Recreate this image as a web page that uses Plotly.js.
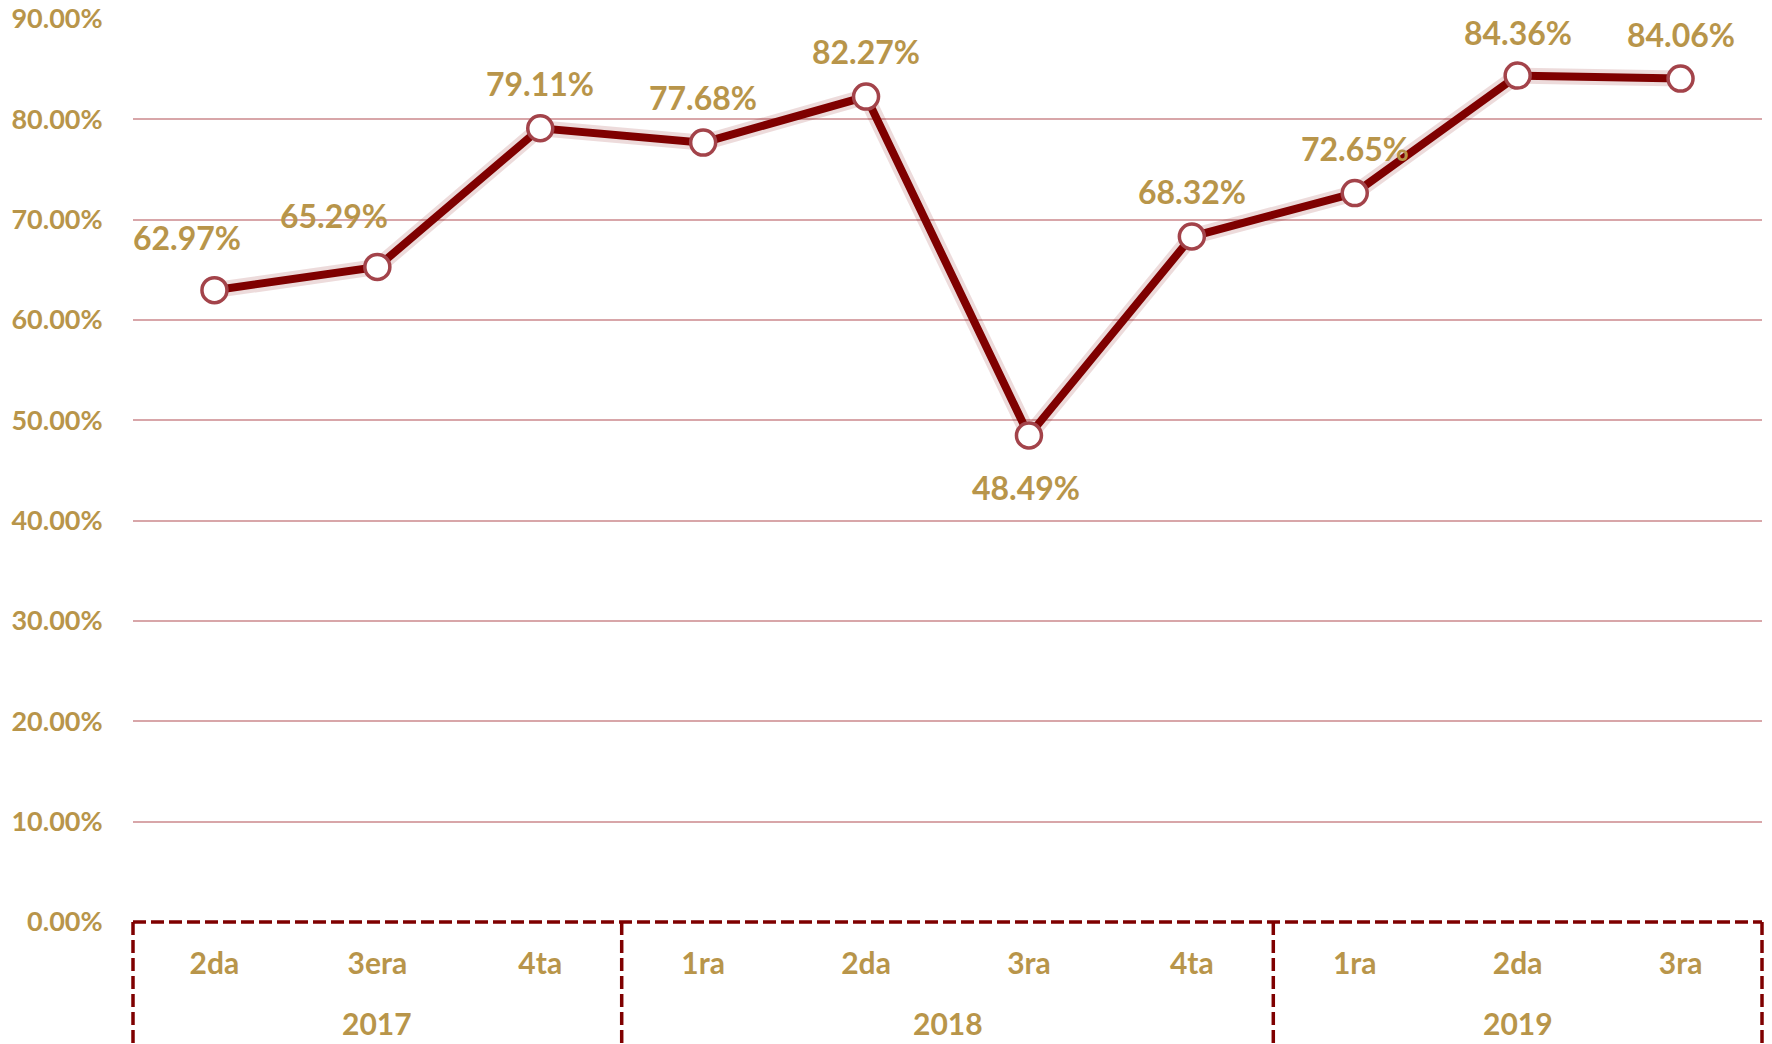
<!DOCTYPE html>
<html>
<head>
<meta charset="utf-8">
<script src="https://cdn.plot.ly/plotly-3.0.1.min.js"></script>
<style>html,body{margin:0;padding:0;background:#fff;}#chart{width:1772px;height:1044px;}</style>
</head>
<body>
<div id="chart"></div>
<script>
// Data
const years    = ["2017","2017","2017","2018","2018","2018","2018","2019","2019","2019"];
const quarters = ["2da","3era","4ta","1ra","2da","3ra","4ta","1ra","2da","3ra"];
const values   = [62.97, 65.29, 79.11, 77.68, 82.27, 48.49, 68.32, 72.65, 84.36, 84.06];
const yTickVals = [0,10,20,30,40,50,60,70,80,90];
const yTickText = ["0.00%","10.00%","20.00%","30.00%","40.00%","50.00%","60.00%","70.00%","80.00%","90.00%"];

// Label offsets (style: pixel shifts of data labels)
const labelShiftX = [-27,-43,0,0,0,-3,0,0,0,0];
const labelShiftY = [53,51,45,45,45,-52,45,45,43,44];

const gold = "#B8954A";
const darkRed = "#7F0000";
const fontFam = "Lato, 'Open Sans', sans-serif";

// unique category keys (year + quarter)
const xKeys = years.map((y, i) => y + " " + quarters[i]);

const glow = {
  type: "scatter", mode: "lines",
  x: xKeys, y: values,
  line: {color: "rgba(127,0,0,0.14)", width: 16},
  hoverinfo: "skip", showlegend: false
};
const main = {
  type: "scatter", mode: "lines+markers",
  x: xKeys, y: values,
  line: {color: darkRed, width: 8},
  marker: {size: 25, color: "#FFFFFF", line: {color: "#A3434A", width: 3.5}},
  showlegend: false
};

const annotations = values.map((v, i) => ({
  x: xKeys[i], y: v,
  xref: "x", yref: "y",
  text: v.toFixed(2) + "%",
  showarrow: false,
  xshift: labelShiftX[i], yshift: labelShiftY[i],
  xanchor: "center", yanchor: "middle",
  font: {family: fontFam, size: 32, color: gold, weight: 700}
}));

// year groups
const groupEdges = [0];
const groupNames = [];
let count = 0;
for (let i = 0; i < years.length; i++) {
  count++;
  if (i === years.length - 1 || years[i + 1] !== years[i]) {
    groupEdges.push(count / years.length);
    groupNames.push(years[i]);
  }
}
groupNames.forEach((g, k) => annotations.push({
  x: (groupEdges[k] + groupEdges[k + 1]) / 2, y: -0.112,
  xref: "paper", yref: "paper",
  text: g, showarrow: false,
  xanchor: "center", yanchor: "middle",
  font: {family: fontFam, size: 30, color: gold, weight: 700}
}));

const dashLine = {color: darkRed, width: 3.5, dash: "13px,5px"};
const shapes = [{
  type: "line", xref: "paper", yref: "paper", x0: 0, x1: 1, y0: 0, y1: 0,
  line: dashLine
}];
groupEdges.forEach(e => shapes.push({
  type: "line", xref: "paper", yref: "paper", x0: e, x1: e, y0: 0, y1: -0.2,
  line: dashLine
}));

const layout = {
  width: 1772, height: 1044,
  margin: {l: 133, r: 10, t: 19, b: 122},
  paper_bgcolor: "#FFFFFF", plot_bgcolor: "#FFFFFF",
  font: {family: fontFam, color: gold},
  xaxis: {
    type: "category",
    range: [-0.5, xKeys.length - 0.5],
    tickvals: xKeys, ticktext: quarters,
    showgrid: false, zeroline: false, showline: false,
    ticks: "outside", ticklen: 15, tickcolor: "rgba(0,0,0,0)",
    tickfont: {size: 30, color: gold, weight: 700, family: fontFam}
  },
  yaxis: {
    range: [0, 90],
    tickvals: yTickVals, ticktext: yTickText,
    showgrid: true, gridcolor: "#D8A6A9", gridwidth: 2,
    zeroline: false, showline: false,
    ticks: "outside", ticklen: 24, tickcolor: "rgba(0,0,0,0)",
    tickfont: {size: 27, color: gold, weight: 700, family: fontFam}
  },
  annotations: annotations,
  shapes: shapes
};

Plotly.newPlot("chart", [glow, main], layout, {displayModeBar: false, staticPlot: true});
</script>
</body>
</html>
